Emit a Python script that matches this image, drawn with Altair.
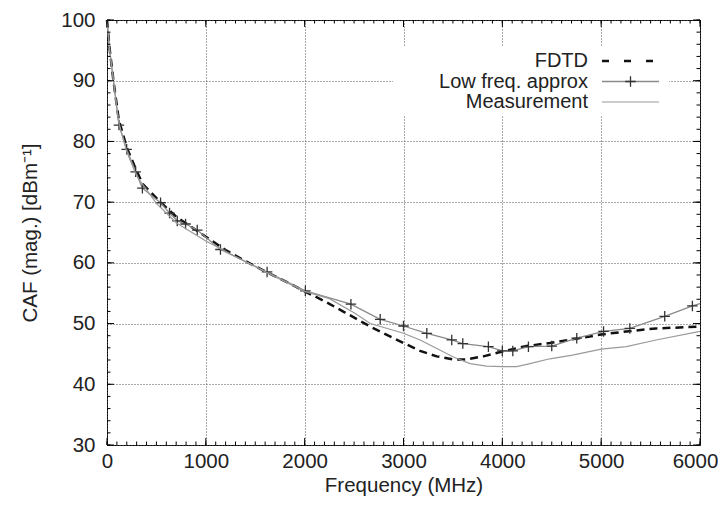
import altair as alt
import pandas as pd

# ---------------- data ----------------
fdtd_f = [0, 25, 65, 120, 200, 290, 360, 540, 700, 1000, 1200, 1400, 1600, 1800, 2000,
          2200, 2400, 2664, 3000, 3168, 3337, 3505, 3640, 3808, 4000, 4246, 4481, 4710,
          5000, 5255, 5556, 6000]
fdtd_v = [100, 95.5, 90, 83.5, 79, 75.5, 73, 70, 67.6, 64.3, 62.1, 60.3, 58.6, 57, 55.3,
          53.7, 51.9, 49.5, 46.8, 45.5, 44.6, 44.1, 44.1, 44.6, 45.4, 46.3, 46.8, 47.4,
          48.2, 48.7, 49.2, 49.5]

low_f = [0, 25, 65, 121, 199, 290, 358, 542, 633, 711, 795, 913, 1148, 1620, 2007, 2468,
         2764, 3000, 3236, 3488, 3600, 3859, 4000, 4106, 4264, 4500, 4753, 5024, 5290,
         5643, 5923, 6000]
low_v = [100, 95.3, 90, 82.7, 78.7, 75.0, 72.3, 69.9, 68.2, 66.9, 66.4, 65.4, 62.2, 58.5,
         55.4, 53.2, 50.7, 49.6, 48.4, 47.3, 46.7, 46.2, 45.5, 45.5, 46.2, 46.3, 47.6, 48.7,
         49.2, 51.2, 52.9, 53.3]
# markers are drawn at the sampled points (all but the first three and the last)
low_marker_f = low_f[3:-1]
low_marker_v = low_v[3:-1]

meas_f = [0, 25, 65, 120, 200, 300, 500, 700, 1000, 1400, 1800, 2000, 2250, 2500, 2664,
          3000, 3168, 3337, 3505, 3673, 3841, 4000, 4145, 4280, 4481, 4710, 5000, 5255,
          5556, 5960, 6000]
meas_v = [100, 95.3, 90, 83, 78.3, 74.3, 69.8, 66.6, 63.6, 60.2, 56.9, 55.3, 54.1, 51.8,
          50.0, 48.4, 47.3, 45.9, 44.5, 43.4, 43.0, 42.9, 42.9, 43.4, 44.2, 44.8, 45.8,
          46.2, 47.3, 48.6, 48.7]

x_major = [0, 1000, 2000, 3000, 4000, 5000, 6000]
x_minor = list(range(0, 6001, 100))
y_major = [30, 40, 50, 60, 70, 80, 90, 100]
y_minor = list(range(30, 101, 2))

legend_labels = ["FDTD", "Low freq. approx", "Measurement"]
x_title = "Frequency (MHz)"
y_title = "CAF (mag.) [dBm\u207b\u00b9]"

# ---------------- styling ----------------
FONT = "Liberation Sans"
FS = 20.5
LFS = 20
MAJ = 7
MIN = 3.5
W, H = 593, 425
TXT = "#222"

xs = alt.Scale(domain=[0, 6000], nice=False, zero=False)
ys = alt.Scale(domain=[30, 100], nice=False, zero=False)

grid_kw = dict(gridColor="#555", gridDash=[1, 2], gridWidth=1)
lab_kw = dict(labelFont=FONT, labelFontSize=FS, labelColor=TXT, format="d",
              labelFlush=False, labelOverlap=False,
              titleFont=FONT, titleFontSize=FS, titleColor=TXT, titleFontWeight="normal")

# the last x label is nudged left a few pixels so it stays inside the page
ax_bottom = alt.Axis(values=x_major, ticks=False, domain=False, grid=True, title=x_title,
                     labelPadding=6, titlePadding=4,
                     labelOffset={"condition": {"test": "datum.value === 6000", "value": -5},
                                  "value": 0},
                     **grid_kw, **lab_kw)
ax_left = alt.Axis(values=y_major, ticks=False, domain=False, grid=True, title=y_title,
                   labelPadding=12, titlePadding=20, **grid_kw, **lab_kw)

df_fdtd = pd.DataFrame({"f": fdtd_f, "v": fdtd_v})
df_low = pd.DataFrame({"f": low_f, "v": low_v})
df_lowm = pd.DataFrame({"f": low_marker_f, "v": low_marker_v})
df_meas = pd.DataFrame({"f": meas_f, "v": meas_v})

PLUS = "M-1,0L1,0M0,-1L0,1"

fdtd = alt.Chart(df_fdtd).mark_line(color="#111", strokeWidth=2.5, strokeDash=[8, 5]).encode(
    x=alt.X("f:Q", scale=xs, axis=ax_bottom),
    y=alt.Y("v:Q", scale=ys, axis=ax_left),
)
X = alt.X("f:Q", scale=xs)
Y = alt.Y("v:Q", scale=ys)
low_line = alt.Chart(df_low).mark_line(color="#8a8a8a", strokeWidth=1.3).encode(x=X, y=Y)
low_pts = alt.Chart(df_lowm).mark_point(shape=PLUS, size=110, filled=False,
                                        color="#333", strokeWidth=1.3, opacity=1).encode(x=X, y=Y)
meas = alt.Chart(df_meas).mark_line(color="#9a9a9a", strokeWidth=1.2).encode(x=X, y=Y)

# ---------------- inward ticks on all four sides (gnuplot style) ----------------
def xticks(values, length):
    d = pd.DataFrame({"f": values})
    bot = alt.Chart(d).mark_rule(color="black", strokeWidth=1).encode(
        x=X, y=alt.value(H - length), y2=alt.value(H))
    top = alt.Chart(d).mark_rule(color="black", strokeWidth=1).encode(
        x=X, y=alt.value(0), y2=alt.value(length))
    return [bot, top]


def yticks(values, length):
    d = pd.DataFrame({"v": values})
    lef = alt.Chart(d).mark_rule(color="black", strokeWidth=1).encode(
        y=Y, x=alt.value(0), x2=alt.value(length))
    rig = alt.Chart(d).mark_rule(color="black", strokeWidth=1).encode(
        y=Y, x=alt.value(W - length), x2=alt.value(W))
    return [lef, rig]


ticks = xticks(x_minor, MIN) + xticks(x_major, MAJ) + yticks(y_minor, MIN) + yticks(y_major, MAJ)

# ---------------- legend (key inside the plot, top right) ----------------
box = alt.Chart(pd.DataFrame({"a": [0]})).mark_rect(fill="white").encode(
    x=alt.value(286), x2=alt.value(562), y=alt.value(27), y2=alt.value(96))

row_y = [41, 61.5, 82]
lx1, lx2, tx = 495, 552, 481
leg = []
for lab, yy in zip(legend_labels, row_y):
    leg.append(alt.Chart(pd.DataFrame({"t": [lab]})).mark_text(
        align="right", baseline="middle", font=FONT, fontSize=LFS, color=TXT).encode(
        text="t:N", x=alt.value(tx), y=alt.value(yy)))

leg_fdtd = alt.Chart(pd.DataFrame({"a": [0]})).mark_rule(
    color="#111", strokeWidth=2.5, strokeDash=[7, 15]).encode(
    x=alt.value(lx1), x2=alt.value(lx2), y=alt.value(row_y[0]))
leg_low = alt.Chart(pd.DataFrame({"a": [0]})).mark_rule(
    color="#8a8a8a", strokeWidth=1.3).encode(
    x=alt.value(lx1), x2=alt.value(lx2), y=alt.value(row_y[1]))
leg_low_pt = alt.Chart(pd.DataFrame({"a": [0]})).mark_point(
    shape=PLUS, size=110, filled=False, color="#333", strokeWidth=1.3, opacity=1).encode(
    x=alt.value((lx1 + lx2) / 2), y=alt.value(row_y[1]))
leg_meas = alt.Chart(pd.DataFrame({"a": [0]})).mark_rule(
    color="#9a9a9a", strokeWidth=1.2).encode(
    x=alt.value(lx1), x2=alt.value(lx2), y=alt.value(row_y[2]))

chart = alt.layer(
    fdtd, low_line, low_pts, meas, *ticks, box, leg_fdtd, leg_low, leg_low_pt, leg_meas, *leg
).properties(
    width=W, height=H,
    autosize=alt.AutoSizeParams(type="none"),
    padding={"left": 99, "top": 12, "right": 18, "bottom": 56},
    background="white",
).configure_view(stroke="black", strokeWidth=1)

chart.save("out.html", embed_options={"renderer": "svg", "actions": False})
